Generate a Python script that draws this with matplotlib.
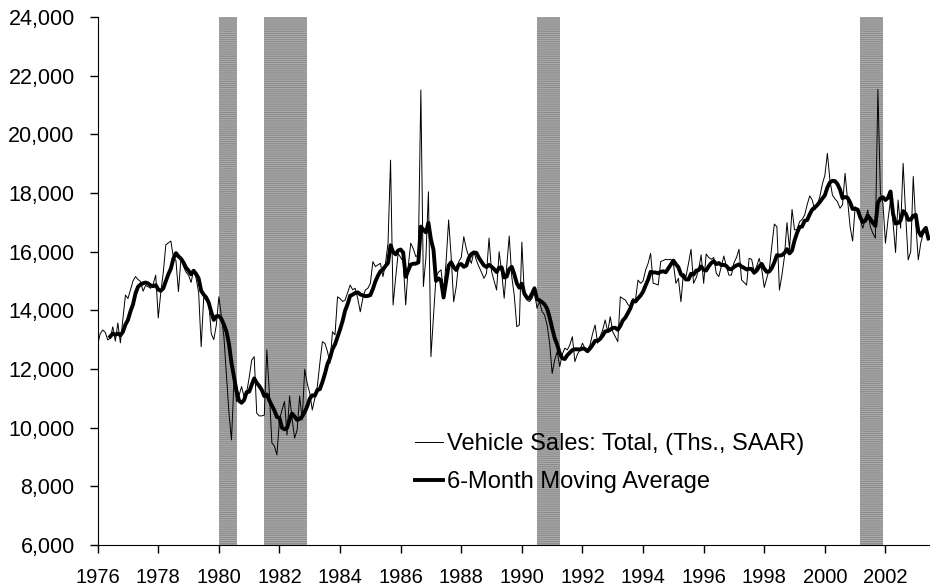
import matplotlib.pyplot as plt
import numpy as np
import pandas as pd
from matplotlib.ticker import FuncFormatter

plt.rcParams['font.family'] = ['Liberation Sans', 'DejaVu Sans']
plt.rcParams['hatch.linewidth'] = 0.8

# monthly total vehicle sales (thousands, SAAR), Jan 1976 - Jun 2003
sales_1976_1979 = [
    12820, 13200, 13330, 13250, 12990, 13050, 13440, 12950, 13570, 12890, 13700, 14520,
    14400, 14700, 15000, 15150, 15050, 14980, 14650, 14850, 14800, 14750, 14900, 15200,
    13740, 14600, 15300, 16230, 16300, 16360, 15800, 15700, 14640, 15770, 15500, 15300,
    15200, 14950, 15370, 15100, 14600, 12760, 14430, 14350, 14300, 13200, 13000, 13500,
]
sales_1980s = [
    14460, 13800, 13100, 11800, 10500, 9580, 11620, 10890, 11100, 11400, 11050, 11200,
    11700, 12300, 12420, 10490, 10400, 10400, 10430, 12650, 11180, 9480, 9370, 9070,
    10260, 10600, 10890, 9750, 11080, 10300, 9640, 9920, 11080, 10260, 11990, 11500,
    11180, 10600, 11000, 11400, 12200, 12930, 12870, 12600, 12190, 13270, 13160, 14460,
    14400, 14300, 14350, 14600, 14860, 14700, 14750, 14400, 13950, 14400, 14690, 14750,
    14920, 15660, 15490, 15550, 15600, 15150, 15600, 16290, 19120, 14180, 15100, 15940,
    15800, 15660, 14180, 15490, 16290, 16100, 15830, 15900, 21510, 14810, 15800, 18040,
    12420, 13800, 15150, 15300, 15380, 14580, 15660, 17080, 15830, 14290, 14800, 15660,
    15800, 16510, 16100, 15830, 15600, 16000, 15700, 15490, 15300, 15090, 15260, 16460,
    15320, 15000, 14690, 16000, 15300, 14410, 15500, 16530, 15150, 14500, 13440, 13500,
]
sales_1990s = [
    16320, 14500, 14350, 14300, 14400, 14640, 14070, 14300, 13960, 13840, 13500, 12880,
    11850, 12300, 12590, 12080, 12500, 12710, 12650, 12820, 13100, 12250, 12500, 12650,
    12880, 12700, 12650, 12820, 13200, 13500, 12880, 13100, 13330, 13670, 13270, 13780,
    13270, 13100, 12930, 14460, 14400, 14350, 14200, 14100, 14400, 14350, 15030, 14920,
    15000, 15370, 15600, 15940, 14920, 14900, 14860, 15660, 15700, 15740, 15720, 15740,
    15600, 14920, 15090, 14290, 15260, 15150, 15600, 16080, 14920, 15100, 15380, 15890,
    14920, 15920, 15800, 15740, 15800, 15260, 15150, 15500, 15850, 15500, 15200, 15200,
    15620, 15800, 16080, 15040, 14950, 14860, 15770, 15740, 15310, 15500, 15770, 15400,
    14780, 15100, 15400, 16200, 16940, 16850, 14690, 15200, 15830, 16990, 16080, 17440,
    16740, 16760, 17020, 17100, 17250, 17600, 17900, 17760, 17420, 17590, 17870, 18300,
]
sales_2000s = [
    18600, 19350, 18440, 17930, 17800, 17700, 17480, 17600, 18670, 17760, 16850, 16360,
    17530, 17420, 17100, 16800, 17100, 17420, 16850, 16630, 16460, 21530, 18000, 17650,
    16290, 17080, 17760, 17000, 15970, 17760, 16800, 19010, 17250, 15720, 16000, 18560,
    16970, 15720, 16300, 16630, 16690, 16400,
]

# recessions (decimal years)
rec_start = [1980.0, 1981.5, 1990.5, 2001.167]
rec_end = [1980.583, 1982.917, 1991.25, 2001.917]

sales = sales_1976_1979 + sales_1980s + sales_1990s + sales_2000s
years = 1976 + np.arange(len(sales)) / 12.0
ma6 = pd.Series(sales).rolling(6).mean()

fig = plt.figure(figsize=(9.3, 5.87), dpi=100)
ax = fig.add_axes([0.105, 0.0716, 0.895, 0.8995])

for s, e in zip(rec_start, rec_end):
    ax.axvspan(s, e, facecolor='#8a8a8a', edgecolor='#ababab', hatch='--------',
               linewidth=0, zorder=0)

ax.plot(years, sales, color='black', linewidth=0.7, label='Vehicle Sales: Total, (Ths., SAAR)')
ax.plot(years, ma6, color='black', linewidth=2.8, label='6-Month Moving Average')

ax.set_xlim(1976, 2003.47)
ax.set_ylim(6000, 24000)
ax.set_xticks(np.arange(1976, 2003, 2))
ax.set_yticks(np.arange(6000, 24001, 2000))
ax.xaxis.set_major_formatter(FuncFormatter(lambda v, p: '%d' % round(v)))
ax.yaxis.set_major_formatter(FuncFormatter(lambda v, p: '{:,.0f}'.format(v)))
ax.spines['top'].set_visible(False)
ax.spines['right'].set_visible(False)
ax.tick_params(direction='out', length=5.5, width=1, pad=11, colors='black')
ax.tick_params(axis='x', labelsize=14.5)
ax.tick_params(axis='y', labelsize=15.5)

ax.legend(loc='upper left', bbox_to_anchor=(415 / 930, 1 - 433 / 587),
          bbox_transform=fig.transFigure, frameon=False, fontsize=17,
          handlelength=1.17, handletextpad=0.2, labelspacing=0.67,
          borderpad=0, borderaxespad=0)

fig.savefig('out.png', dpi=100)
